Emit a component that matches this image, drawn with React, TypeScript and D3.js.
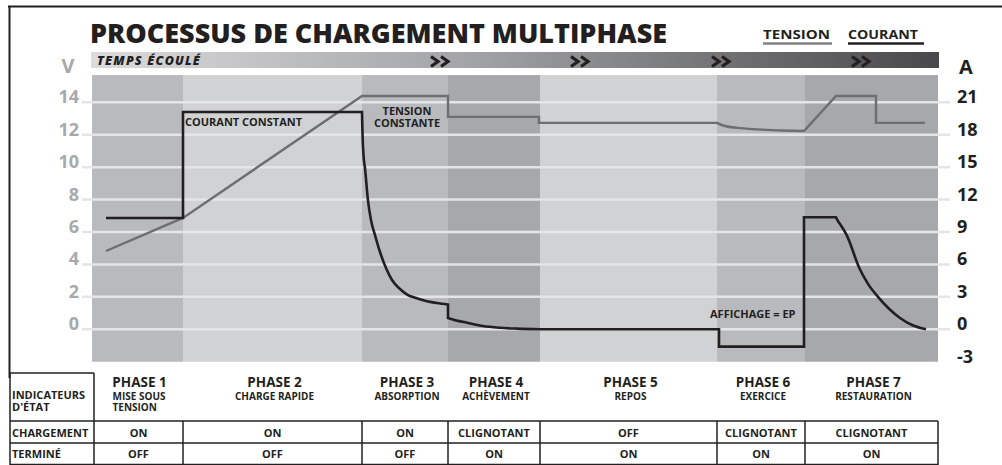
import * as d3 from "d3";

// time axis is in arbitrary units (left edge of the plot = 0)
const phaseNames = ["PHASE 1", "PHASE 2", "PHASE 3", "PHASE 4", "PHASE 5", "PHASE 6", "PHASE 7"];
const phaseSubtitles = [
  ["MISE SOUS", "TENSION"],
  ["CHARGE RAPIDE"],
  ["ABSORPTION"],
  ["ACHÈVEMENT"],
  ["REPOS"],
  ["EXERCICE"],
  ["RESTAURATION"],
];
const phaseBounds = [0, 91, 270, 356, 448, 625, 713, 846];
const chargementStates = ["ON", "ON", "ON", "CLIGNOTANT", "OFF", "CLIGNOTANT", "CLIGNOTANT"];
const termineStates = ["OFF", "OFF", "OFF", "ON", "ON", "ON", "ON"];

const voltTicks = [0, 2, 4, 6, 8, 10, 12, 14];
const ampTicks = [-3, 0, 3, 6, 9, 12, 15, 18, 21];

// tension (V) : [time, volts]
const voltageRamp: [number, number][] = [
  [14, 4.83], [91, 6.87], [270, 14.39], [356, 14.39], [356, 13.1],
  [447, 13.1], [447, 12.73], [625, 12.73],
];
const voltageSag: [number, number][] = [
  [625, 12.73], [631, 12.57], [646, 12.42], [666, 12.33], [690, 12.26], [712, 12.23],
];
const voltageRestore: [number, number][] = [
  [712, 12.23], [744, 14.39], [784, 14.39], [784, 12.73], [833, 12.73],
];

// courant (A) : [time, amps]
const currentBulk: [number, number][] = [
  [14, 10.3], [91, 10.3], [91, 20.1], [270, 20.1],
];
const currentAbsorption: [number, number][] = [
  [270, 20.1], [270.5, 18.1], [271.5, 16.1], [273, 14.9], [276, 11.9], [279, 10.1],
  [283, 8.72], [288, 7.15], [294, 5.67], [300, 4.56], [308, 3.73], [316, 3.17],
  [324, 2.9], [334, 2.62], [345, 2.43], [356, 2.29],
];
const currentStep: [number, number][] = [[356, 2.29], [356, 1.05]];
const currentTopOff: [number, number][] = [
  [356, 1.05], [366, 0.78], [375, 0.61], [391, 0.3], [408, 0.14], [425, 0.06], [448, 0],
];
const currentRest: [number, number][] = [
  [448, 0], [627, 0], [627, -1.6], [712, -1.6], [712, 10.36], [744, 10.36],
];
const currentRecovery: [number, number][] = [
  [744, 10.36], [746, 10.0], [749, 9.6], [754.7, 8.72], [767.3, 5.67], [776, 4.2],
  [786, 3.0], [797, 1.9], [808, 1.05], [820, 0.4], [834, 0],
];

const annotations = [
  { lines: ["COURANT CONSTANT"], t: 93, a: 18.8, anchor: "start" },
  { lines: ["TENSION", "CONSTANTE"], t: 315, a: 19.8, anchor: "middle" },
  { lines: ["AFFICHAGE = EP"], t: 618, a: 1.05, anchor: "start" },
];
const chevronTimes = [349, 489, 630, 770];

const bandFill = ["#b9babd", "#d1d2d4", "#b9babd", "#a7a8ab", "#d1d2d4", "#b9babd", "#a7a8ab"];
const FONT = "'Open Sans', 'Noto Sans', sans-serif";
const INK = "#231f20";

const x = d3.scaleLinear().domain([0, 846]).range([92, 938]);
const yV = d3.scaleLinear().domain([0, 14]).range([329.3, 102.3]);
const yA = d3.scaleLinear().domain([0, 21]).range([329.3, 102.3]);

const plotTop = yV(15.68);
const plotBottom = yV(-2);

function joined(gen: d3.Line<[number, number]>, parts: { pts: [number, number][]; curved: boolean }[]) {
  return parts
    .map((p, i) => {
      const d = gen.curve(p.curved ? d3.curveMonotoneX : d3.curveLinear)(p.pts) || "";
      return i === 0 ? d : d.replace(/^M/, "L");
    })
    .join("");
}

export default function App() {
  const lineV = d3.line<[number, number]>().x((d) => x(d[0])).y((d) => yV(d[1]));
  const lineA = d3.line<[number, number]>().x((d) => x(d[0])).y((d) => yA(d[1]));

  const voltagePath = joined(lineV, [
    { pts: voltageRamp, curved: false },
    { pts: voltageSag, curved: true },
    { pts: voltageRestore, curved: false },
  ]);
  const currentPath = joined(lineA, [
    { pts: currentBulk, curved: false },
    { pts: currentAbsorption, curved: true },
    { pts: currentStep, curved: false },
    { pts: currentTopOff, curved: true },
    { pts: currentRest, curved: false },
    { pts: currentRecovery, curved: true },
  ]);

  const colX = phaseBounds.map((t, i) => (i === 0 ? 94 : x(t)));
  const tableRows = [
    { label: "CHARGEMENT", values: chargementStates, y: 436.5 },
    { label: "TERMINÉ", values: termineStates, y: 458 },
  ];

  return (
    <>
      <style>{`body{margin:0}`}</style>
      <svg width={1002} height={465} style={{ display: "block", fontFamily: FONT }}>
        <defs>
          <linearGradient id="timeGrad" x1="0" x2="1" y1="0" y2="0">
            <stop offset="0%" stopColor="#dcdcdd" />
            <stop offset="45%" stopColor="#a2a3a6" />
            <stop offset="100%" stopColor="#48484a" />
          </linearGradient>
        </defs>

        {/* frame */}
        <line x1={8} x2={1002} y1={6.5} y2={6.5} stroke={INK} strokeWidth={2} />
        <line x1={9.5} x2={9.5} y1={6} y2={378} stroke={INK} strokeWidth={2} />

        {/* title + legend */}
        <text x={90} y={43} fontSize={26.5} fontWeight={800} fill={INK} textLength={577} lengthAdjust="spacingAndGlyphs">
          PROCESSUS DE CHARGEMENT MULTIPHASE
        </text>
        <text x={763} y={39} fontSize={13} fontWeight={700} fill={INK} textLength={67} lengthAdjust="spacingAndGlyphs">TENSION</text>
        <line x1={763} x2={832} y1={43.5} y2={43.5} stroke="#808285" strokeWidth={2.5} />
        <text x={848} y={39} fontSize={13} fontWeight={700} fill={INK} textLength={70} lengthAdjust="spacingAndGlyphs">COURANT</text>
        <line x1={848} x2={924} y1={43.5} y2={43.5} stroke={INK} strokeWidth={2.5} />

        {/* time bar */}
        <rect x={91} y={52} width={848} height={16} fill="url(#timeGrad)" />
        <text x={97} y={65} fontSize={12.5} fontWeight={800} fontStyle="italic" letterSpacing={1.2} fill={INK}>
          TEMPS ÉCOULÉ
        </text>
        {chevronTimes.map((t) => (
          <g key={t} transform={`translate(${x(t) - 10},${56})`} fill="none" stroke={INK} strokeWidth={3.2} strokeLinejoin="miter">
            <path d="M0,0.5 L7,5.5 L0,10.5" />
            <path d="M10,0.5 L17,5.5 L10,10.5" />
          </g>
        ))}

        {/* axis titles */}
        <text x={68} y={73} fontSize={20} fontWeight={700} fill="#a7a9ac" textAnchor="middle">V</text>
        <text x={966} y={74} fontSize={20} fontWeight={700} fill={INK} textAnchor="middle">A</text>

        {/* phase bands */}
        {phaseNames.map((p, i) => (
          <rect
            key={p}
            x={x(phaseBounds[i])}
            y={plotTop}
            width={x(phaseBounds[i + 1]) - x(phaseBounds[i])}
            height={plotBottom - plotTop}
            fill={bandFill[i]}
          />
        ))}

        {/* grid */}
        {voltTicks.map((v) => (
          <line key={v} x1={82} x2={950} y1={yV(v)} y2={yV(v)} stroke="#e4e5e6" strokeWidth={2.5} />
        ))}
        {voltTicks.map((v) => (
          <text key={v} x={79} y={yV(v) + 1} fontSize={18} fontWeight={700} fill="#a7a9ac" textAnchor="end">
            {v}
          </text>
        ))}
        {ampTicks.map((a) => (
          <text key={a} x={957} y={yA(a) + 1} fontSize={18} fontWeight={700} fill={INK}>
            {a}
          </text>
        ))}

        {/* curves */}
        <path d={voltagePath} fill="none" stroke="#6d6e71" strokeWidth={2.4} />
        <path d={currentPath} fill="none" stroke={INK} strokeWidth={2.6} />

        {/* annotations */}
        {annotations.map((an) => (
          <text key={an.lines[0]} fontSize={11} fontWeight={700} fill={INK} textAnchor={an.anchor}>
            {an.lines.map((l, j) => (
              <tspan key={l} x={x(an.t)} y={yA(an.a) + j * 11.5}>
                {l}
              </tspan>
            ))}
          </text>
        ))}

        {/* phase labels */}
        {phaseNames.map((p, i) => {
          const cx = (x(phaseBounds[i]) + x(phaseBounds[i + 1])) / 2 + 2;
          const sub = phaseSubtitles[i];
          return (
            <g key={p}>
              <text x={cx} y={387} fontSize={13.5} fontWeight={700} fill={INK} textAnchor="middle">
                {p}
              </text>
              {sub.length === 1 ? (
                <text x={cx} y={400} fontSize={10} fontWeight={700} fill={INK} textAnchor="middle">
                  {sub[0]}
                </text>
              ) : (
                <text fontSize={10} fontWeight={700} fill={INK}>
                  {sub.map((s, j) => (
                    <tspan key={s} x={cx - 27} y={400 + j * 11}>
                      {s}
                    </tspan>
                  ))}
                </text>
              )}
            </g>
          );
        })}

        {/* status table */}
        <g stroke={INK} strokeWidth={1.5}>
          <line x1={10} x2={94} y1={373} y2={373} />
          <line x1={10} x2={10} y1={373} y2={465} />
          <line x1={94} x2={94} y1={373} y2={465} />
          <line x1={10} x2={938} y1={421} y2={421} />
          <line x1={10} x2={938} y1={443} y2={443} />
          <line x1={10} x2={938} y1={464.5} y2={464.5} />
          {colX.slice(1).map((cx) => (
            <line key={cx} x1={cx} x2={cx} y1={421} y2={465} />
          ))}
        </g>
        <text fontSize={11} fontWeight={700} fill={INK}>
          <tspan x={12} y={399}>INDICATEURS</tspan>
          <tspan x={12} y={410.5}>D'ÉTAT</tspan>
        </text>
        {tableRows.map((r) => (
          <g key={r.label}>
            <text x={12} y={r.y} fontSize={11} fontWeight={700} fill={INK}>
              {r.label}
            </text>
            {r.values.map((v, i) => (
              <text
                key={i}
                x={(colX[i] + colX[i + 1]) / 2}
                y={r.y}
                fontSize={11}
                fontWeight={700}
                fill={INK}
                textAnchor="middle"
              >
                {v}
              </text>
            ))}
          </g>
        ))}
      </svg>
    </>
  );
}
